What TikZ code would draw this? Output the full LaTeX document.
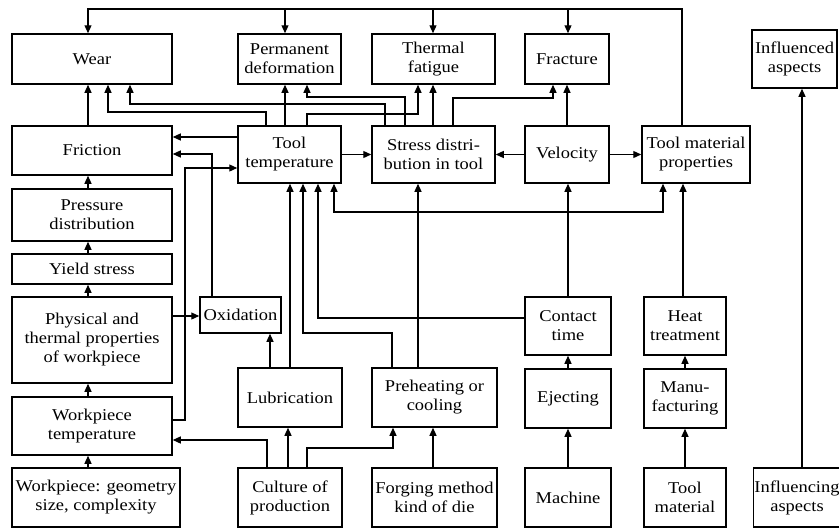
\documentclass[tikz,border=0pt]{standalone}
\usepackage{fontspec}
\setmainfont[FakeStretch=1.12]{Liberation Serif}
\usetikzlibrary{arrows.meta}
\begin{document}
\begin{tikzpicture}[x=1pt,y=-1pt,
  box/.style={draw,line width=1.5pt,align=center,inner sep=1pt,
    font=\fontsize{16.5}{19}\selectfont},
  arr/.style={line width=1.2pt,-{Triangle[length=8pt,width=7pt]}},
  arrb/.style={line width=1.2pt,{Triangle[length=8pt,width=7pt]}-{Triangle[length=8pt,width=7pt]}},
  ln/.style={line width=1.2pt}]
\useasboundingbox (0,0) rectangle (839,528);
% top row
\node[box,minimum width=160,minimum height=50] (wear) at (92,59) {Wear};
\node[box,minimum width=103,minimum height=50] (perm) at (289.5,59) {Permanent\\deformation};
\node[box,minimum width=123,minimum height=50] (therm) at (433.5,59) {Thermal\\fatigue};
\node[box,minimum width=84,minimum height=50] (fract) at (567,59) {Fracture};
\node[box,minimum width=85,minimum height=58] (infl) at (794.5,59) {Influenced\\aspects};
% second row
\node[box,minimum width=160,minimum height=49] (fric) at (92,150.5) {Friction};
\node[box,minimum width=103,minimum height=57] (tt) at (289.5,154.5) {Tool\\temperature};
\node[box,minimum width=123,minimum height=57] (st) at (433.5,154.5) {Stress distri-\\bution in tool};
\node[box,minimum width=84,minimum height=57] (vel) at (567,154.5) {Velocity};
\node[box,minimum width=108,minimum height=57] (tmp) at (696,154.5) {Tool material\\properties};
% left column
\node[box,minimum width=160,minimum height=52] (press) at (92,215) {Pressure\\distribution};
\node[box,minimum width=160,minimum height=30] (yield) at (92,269) {Yield stress};
\node[box,minimum width=160,minimum height=86] (phys) at (92,340) {Physical and\\thermal properties\\of workpiece};
\node[box,minimum width=160,minimum height=58] (wtemp) at (92,426) {Workpiece\\temperature};
\node[box,minimum width=168,minimum height=59] (wgeom) at (96,497.5) {Workpiece: geometry\\size, complexity};
% middle
\node[box,minimum width=81,minimum height=36] (oxid) at (240.5,315) {Oxidation};
\node[box,minimum width=104,minimum height=59] (lub) at (290,397.5) {Lubrication};
\node[box,minimum width=104,minimum height=59] (cult) at (290,497.5) {Culture of\\production};
\node[box,minimum width=125,minimum height=59] (preh) at (434.5,397.5) {Preheating or\\cooling};
\node[box,minimum width=125,minimum height=59] (forg) at (434.5,497.5) {Forging method\\kind of die};
\node[box,minimum width=86,minimum height=58] (contact) at (568,326) {Contact\\time};
\node[box,minimum width=86,minimum height=59] (eject) at (568,398.5) {Ejecting};
\node[box,minimum width=86,minimum height=59] (mach) at (568,497.5) {Machine};
\node[box,minimum width=82,minimum height=58] (heat) at (685,326) {Heat\\treatment};
\node[box,minimum width=82,minimum height=59] (manu) at (685,398.5) {Manu-\\facturing};
\node[box,minimum width=82,minimum height=59] (tmat) at (685,497.5) {Tool\\material};
\node[box,minimum width=84,minimum height=59] (infling) at (797,497.5) {Influencing\\aspects};

% top feedback line from tool material properties
\coordinate (tp1) at (285,9);
\coordinate (tp2) at (433,9);
\coordinate (tp3) at (568,9);
\draw[arr] (tmp.north -| 682,0) -- (682,9) -| (wear.north -| 88,0);
\draw[arr] (tp1) -- (perm.north -| tp1);
\draw[arr] (tp2) -- (therm.north -| tp2);
\draw[arr] (tp3) -- (fract.north -| tp3);

% into wear
\draw[arr] (fric.north -| 88,0) -- (wear.south -| 88,0);
\draw[arr] (tt.north -| 266,0) -- (266,112) -| (wear.south -| 108,0);
\draw[arr] (st.north -| 385,0) -- (385,104) -| (wear.south -| 130,0);
% into permanent deformation
\draw[arr] (tt.north -| 285,0) -- (perm.south -| 285,0);
\draw[arr] (st.north -| 405,0) -- (405,97) -| (perm.south -| 307,0);
% into thermal fatigue
\draw[arr] (tt.north -| 307,0) -- (307,114) -| (therm.south -| 418,0);
\draw[arr] (st.north -| 433,0) -- (therm.south -| 433,0);
% into fracture
\draw[arr] (st.north -| 453,0) -- (453,98) -| (fract.south -| 553,0);
\draw[arr] (vel.north) -- (fract.south);
% second row horizontals
\draw[arr] (vel.west) -- (st.east);
\draw[arr] (vel.east) -- (tmp.west);
\draw[arr] (tt.east) -- (st.west);
\draw[arr] (tt.west |- 0,137) -- (fric.east |- 0,137);
\draw[arr] (oxid.north -| 212,0) -- (212,154) -- (fric.east |- 0,154);
\draw[arr] (wtemp.east |- 0,420) -- (185,420) -- (185,168) -- (tt.west |- 0,168);
% oxidation
\draw[arr] (phys.east |- 0,316) -- (oxid.west |- 0,316);
\draw[arr] (lub.north -| 270,0) -- (oxid.south -| 270,0);
% into tool temperature
\draw[arr] (lub.north -| 290,0) -- (tt.south -| 290,0);
\draw[arr] (preh.north -| 392,0) -- (392,333) -| (tt.south -| 303,0);
\draw[arr] (contact.west |- 0,318) -| (tt.south -| 318,0);
\draw[arrb] (tt.south -| 334,0) -- (334,212) -| (tmp.south -| 663,0);
% stress from preheating
\draw[arr] (preh.north -| 418,0) -- (st.south -| 418,0);
% right columns
\draw[arr] (contact.north) -- (vel.south -| contact.north);
\draw[arr] (heat.north -| 683,0) -- (tmp.south -| 683,0);
\draw[arr] (eject.north) -- (contact.south);
\draw[arr] (mach.north) -- (eject.south);
\draw[arr] (manu.north) -- (heat.south);
\draw[arr] (tmat.north) -- (manu.south);
\draw[arr] (forg.north -| 433,0) -- (preh.south -| 433,0);
% culture of production
\draw[arr] (cult.north -| 307,0) -- (307,448) -| (preh.south -| 393,0);
\draw[arr] (cult.north -| 288,0) -- (lub.south -| 288,0);
\draw[arr] (cult.north -| 267,0) -- (267,440) -- (wtemp.east |- 0,440);
% left column chain
\draw[arr] (wgeom.north -| 88,0) -- (wtemp.south -| 88,0);
\draw[arr] (wtemp.north -| 88,0) -- (phys.south -| 88,0);
\draw[arr] (phys.north -| 88,0) -- (yield.south -| 88,0);
\draw[arr] (yield.north -| 88,0) -- (press.south -| 88,0);
\draw[arr] (press.north -| 88,0) -- (fric.south -| 88,0);
% legend
\draw[arr] (infling.north -| 802,0) -- (infl.south -| 802,0);
\end{tikzpicture}
\end{document}
